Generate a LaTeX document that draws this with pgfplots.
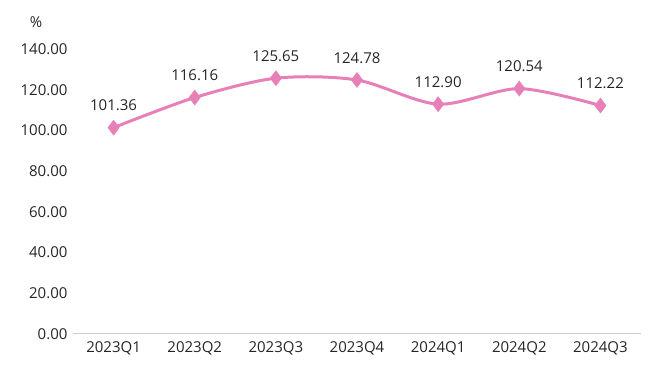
\documentclass[border=0pt]{standalone}
\usepackage{pgfplots}
\pgfplotsset{compat=1.18}
\usepackage{fontspec}
\setmainfont{Open Sans}
\definecolor{pinkline}{RGB}{232,128,184}
\begin{document}
\begin{tikzpicture}[x=1pt,y=1pt]
\begin{axis}[
  scale only axis,
  width=568pt, height=285pt,
  xmin=-0.5, xmax=6.5,
  ymin=0, ymax=140,
  xtick={0,1,2,3,4,5,6},
  xticklabels={2023Q1,2023Q2,2023Q3,2023Q4,2024Q1,2024Q2,2024Q3},
  ytick={0,20,40,60,80,100,120,140},
  yticklabel={\pgfmathprintnumber[fixed,fixed zerofill,precision=2]{\tick}},
  /pgf/number format/assume math mode=true,
  tick label style={font=\fontsize{15}{17}\selectfont, text=black!85},
  axis y line*=left,
  y axis line style={draw=none},
  axis x line*=bottom,
  x axis line style={draw=black!20, line width=1pt, -},
  major tick length=0pt,
  xticklabel style={yshift=-4pt},
  yticklabel style={xshift=-2pt},
  clip=false,
  nodes near coords,
  point meta=explicit symbolic,
  nodes near coords style={font=\fontsize{15}{17}\selectfont, text=black!85, yshift=13pt},
]
\addplot[pinkline, line width=3pt, smooth, mark=diamond*, mark size=7.5pt, mark options={fill=pinkline, draw=pinkline, line width=0.5pt}]
  coordinates {(0,101.36)[101.36] (1,116.16)[116.16] (2,125.65)[125.65] (3,124.78)[124.78] (4,112.90)[112.90] (5,120.54)[120.54] (6,112.22)[112.22]};
\node[font=\fontsize{15}{17}\selectfont, text=black!85] at ([xshift=-37pt,yshift=27pt]rel axis cs:0,1) {\%};
\pgfresetboundingbox
\path[use as bounding box] ([shift={(-73pt,-42pt)}]rel axis cs:0,0) rectangle ([shift={(19pt,49pt)}]rel axis cs:1,1);
\end{axis}
\end{tikzpicture}
\end{document}
